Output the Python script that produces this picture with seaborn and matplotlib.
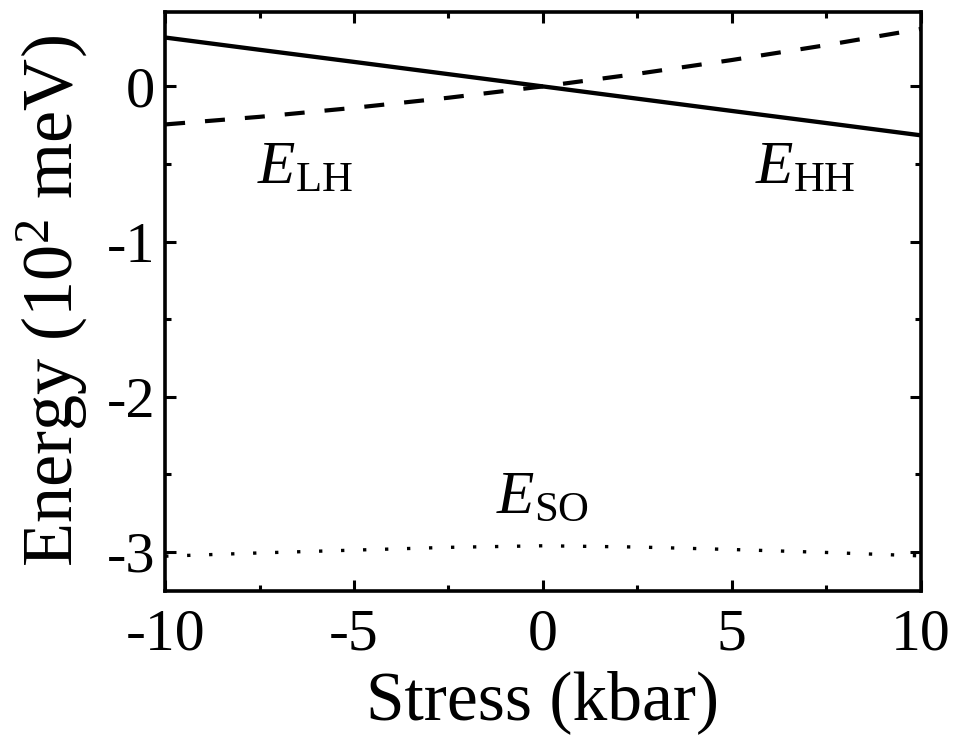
import numpy as np
import pandas as pd
import matplotlib
matplotlib.use("Agg")
import matplotlib.pyplot as plt
import seaborn as sns

# Data
stress = [-10, -7.5, -5, -2.5, 0, 2.5, 5, 7.5, 10]
e_hh = [0.315, 0.236, 0.158, 0.079, 0.0, -0.079, -0.158, -0.236, -0.315]
e_lh = [-0.245, -0.196, -0.138, -0.073, 0.0, 0.081, 0.170, 0.266, 0.370]
e_so = [-3.027, -3.006, -2.988, -2.970, -2.960, -2.968, -2.984, -3.003, -3.025]
series_names = ["HH", "LH", "SO"]
xticks = [-10, -5, 0, 5, 10]
yticks = [0, -1, -2, -3]

df = pd.DataFrame({
    "Stress": stress * 3,
    "Energy": e_hh + e_lh + e_so,
    "Band": sum([[n] * len(stress) for n in series_names], []),
})

sns.set_theme(style="ticks")
plt.rcParams["font.family"] = ["Liberation Serif", "DejaVu Serif"]
plt.rcParams["mathtext.fontset"] = "custom"
plt.rcParams["mathtext.rm"] = "Liberation Serif"
plt.rcParams["mathtext.it"] = "Liberation Serif:italic"
for k in ["text.color", "axes.labelcolor", "xtick.color", "ytick.color",
          "axes.edgecolor"]:
    plt.rcParams[k] = "black"

fig = plt.figure(figsize=(9.6, 7.45), dpi=100)
ax = fig.add_axes([0.172, 0.207, 0.787, 0.777])

styles = {"HH": "-", "LH": (0, (4.8, 4.8)), "SO": (0, (1, 5.6))}
widths = {"HH": 3.1, "LH": 3.0, "SO": 2.4}
for name in series_names:
    sub = df[df["Band"] == name]
    sns.lineplot(data=sub, x="Stress", y="Energy", ax=ax, color="black",
                 linestyle=styles[name], linewidth=widths[name],
                 estimator=None, sort=False, legend=False)

ax.set_xlim(-10, 10)
ax.set_ylim(-3.25, 0.48)
ax.set_xticks(xticks)
ax.set_xticklabels([str(t) for t in xticks])
ax.set_yticks(yticks)
ax.set_yticklabels([str(t) for t in yticks])
ax.set_xticks([-7.5, -2.5, 2.5, 7.5], minor=True)
ax.set_yticks([-0.5, -1.5, -2.5], minor=True)

ax.tick_params(which="both", direction="in", top=True, right=True, width=2.2,
               color="black")
ax.tick_params(which="major", length=8, labelsize=43, pad=13)
ax.tick_params(which="minor", length=4.5)
ax.tick_params(axis="y", which="major", pad=7, labelsize=42)
for s in ax.spines.values():
    s.set_linewidth(2.6)
    s.set_color("black")

ax.set_xlabel("Stress (kbar)", fontsize=50, labelpad=5)
ax.set_ylabel(r"Energy (10$^2$ meV)", fontsize=52, labelpad=12)

ax.text(-6.3, -0.53, r"$E_{\rm LH}$", fontsize=44, ha="center", va="center")
ax.text(6.95, -0.53, r"$E_{\rm HH}$", fontsize=44, ha="center", va="center")
ax.text(0.0, -2.65, r"$E_{\rm SO}$", fontsize=44, ha="center", va="center")

fig.savefig("out.png", dpi=100)
